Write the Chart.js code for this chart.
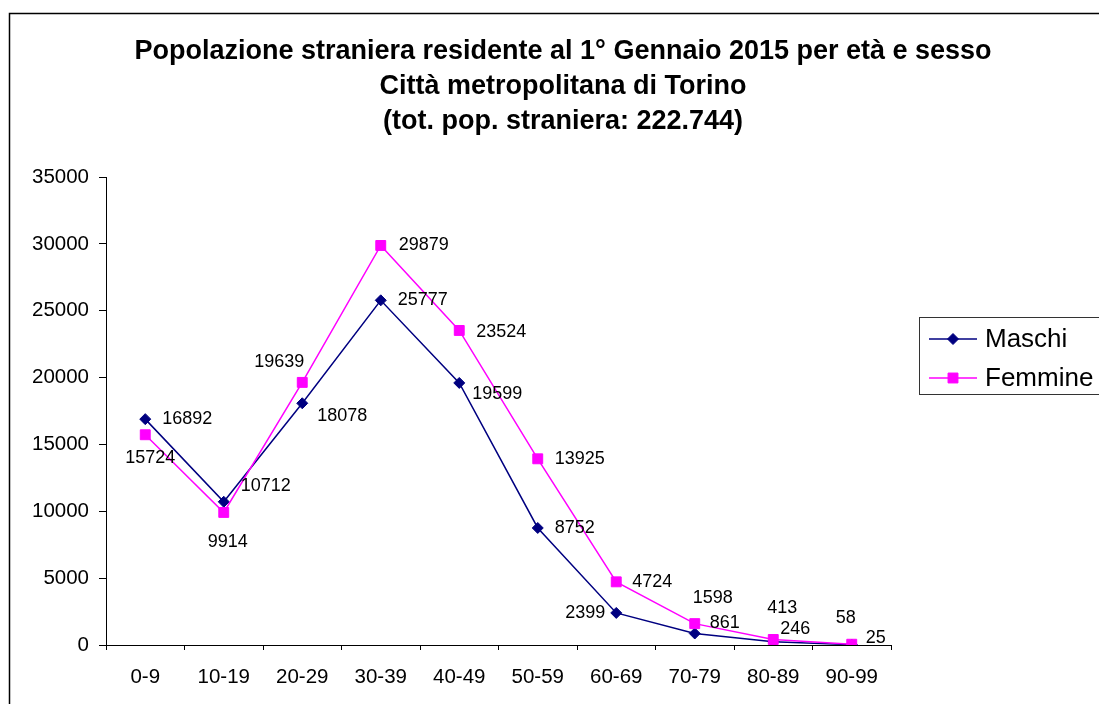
<!DOCTYPE html>
<html>
<head>
<meta charset="utf-8">
<script src="https://cdn.jsdelivr.net/npm/chart.js@4/dist/chart.umd.min.js"></script>
<style>
  html, body { margin: 0; padding: 0; background: #fff; overflow: hidden; }
  canvas { display: block; }
</style>
</head>
<body>
<canvas id="c" width="1099" height="704"></canvas>
<script>
// ---- data ----
const categories = ['0-9', '10-19', '20-29', '30-39', '40-49', '50-59', '60-69', '70-79', '80-89', '90-99'];
const maschi = [16892, 10712, 18078, 25777, 19599, 8752, 2399, 861, 246, 25];
const femmine = [15724, 9914, 19639, 29879, 23524, 13925, 4724, 1598, 413, 58];
const titleLines = [
  'Popolazione straniera residente al 1° Gennaio 2015 per età e sesso',
  'Città metropolitana di Torino',
  '(tot. pop. straniera: 222.744)'
];
const yTicks = [0, 5000, 10000, 15000, 20000, 25000, 30000, 35000];

// label placement (offset of label centre from its point, in px)
const maschiLabelOffsets = [[42,0],[42,-16],[40,13],[42,0],[38,11],[37,0],[-31,0],[30,-10],[22,-13],[24,-7]];
const femmineLabelOffsets = [[5,23],[4,30],[-23,-20],[43,0],[42,2],[42,0],[36,0],[18,-26],[9,-31],[-6,-26]];

const FONT = "'Liberation Sans', Arial, sans-serif";

const dataLabels = {
  id: 'dataLabels',
  afterDatasetsDraw(chart) {
    const ctx = chart.ctx;
    ctx.save();
    ctx.font = '18px ' + FONT;
    ctx.fillStyle = '#000';
    ctx.textAlign = 'center';
    ctx.textBaseline = 'middle';
    chart.data.datasets.forEach((ds, di) => {
      const meta = chart.getDatasetMeta(di);
      const offs = ds.labelOffsets;
      meta.data.forEach((pt, i) => {
        const o = offs[i];
        ctx.fillText(String(ds.data[i]), pt.x + o[0], pt.y + o[1]);
      });
    });
    ctx.restore();
  }
};

const frameAndLegend = {
  id: 'frameAndLegend',
  afterDraw(chart) {
    const ctx = chart.ctx;
    ctx.save();
    // outer frame
    ctx.strokeStyle = '#000';
    ctx.lineWidth = 1.5;
    ctx.strokeRect(9.5, 13.5, 1200, 800);
    // legend box
    const bx = 919.5, by = 317.5, bw = 190, bh = 77;
    ctx.lineWidth = 1;
    ctx.strokeStyle = '#333';
    ctx.strokeRect(bx, by, bw, bh);
    const rows = [339, 378];
    chart.data.datasets.forEach((ds, di) => {
      const y = rows[di];
      ctx.strokeStyle = ds.borderColor;
      ctx.lineWidth = ds.borderWidth;
      ctx.beginPath();
      ctx.moveTo(929, y);
      ctx.lineTo(977, y);
      ctx.stroke();
      ctx.fillStyle = ds.pointBackgroundColor;
      ctx.strokeStyle = ds.pointBorderColor;
      ctx.lineWidth = ds.pointBorderWidth;
      Chart.helpers.drawPoint(ctx, {pointStyle: ds.pointStyle, rotation: 0, radius: ds.pointRadius, borderWidth: ds.pointBorderWidth}, 953, y);
      ctx.fillStyle = '#000';
      ctx.font = '26px ' + FONT;
      ctx.textAlign = 'left';
      ctx.textBaseline = 'middle';
      ctx.fillText(ds.label, 985, y + 1);
    });
    ctx.restore();
  }
};

new Chart(document.getElementById('c'), {
  type: 'line',
  data: {
    labels: categories,
    datasets: [
      {
        label: 'Maschi',
        data: maschi,
        labelOffsets: maschiLabelOffsets,
        order: 1,
        borderColor: '#000080',
        backgroundColor: '#000080',
        pointBackgroundColor: '#000080',
        pointBorderColor: '#000080',
        borderWidth: 1.5,
        pointStyle: 'rectRot',
        pointRadius: 5.5,
        pointBorderWidth: 1,
        tension: 0,
        fill: false
      },
      {
        label: 'Femmine',
        data: femmine,
        labelOffsets: femmineLabelOffsets,
        order: 0,
        borderColor: '#FF00FF',
        backgroundColor: '#FF00FF',
        pointBackgroundColor: '#FF00FF',
        pointBorderColor: '#FF00FF',
        borderWidth: 1.5,
        pointStyle: 'rect',
        pointRadius: 7,
        pointBorderWidth: 1,
        tension: 0,
        fill: false
      }
    ]
  },
  options: {
    responsive: false,
    animation: false,
    devicePixelRatio: 1,
    layout: { padding: { left: 27, right: 0, top: 0, bottom: 0 } },
    plugins: {
      legend: { display: false },
      tooltip: { enabled: false },
      title: {
        display: true,
        text: titleLines,
        color: '#000',
        font: { family: FONT, size: 27, weight: 'bold', lineHeight: 35 / 27 },
        padding: { top: 34.5, bottom: 37.5 }
      }
    },
    scales: {
      x: {
        type: 'category',
        offset: true,
        grid: { display: true, drawOnChartArea: false, drawTicks: true, tickLength: 5, offset: true, color: '#000', lineWidth: 1 },
        border: { display: true, color: '#000', width: 1 },
        ticks: { color: '#000', font: { family: FONT, size: 20.5 }, padding: 15, maxRotation: 0, autoSkip: false },
        afterFit: (s) => { s.height = 59; }
      },
      y: {
        min: 0,
        max: 35000,
        afterBuildTicks: (s) => { s.ticks = yTicks.map(v => ({ value: v })); },
        grid: { display: true, drawOnChartArea: false, drawTicks: true, tickLength: 7, color: '#000', lineWidth: 1 },
        border: { display: true, color: '#000', width: 1 },
        ticks: { color: '#000', font: { family: FONT, size: 20.5 }, padding: 10, callback: (v) => String(v) },
        afterFit: (s) => { s.width = 79; }
      },
      spacer: {
        type: 'linear',
        position: 'right',
        display: true,
        grid: { display: false, drawTicks: false },
        border: { display: false },
        ticks: { display: false },
        afterFit: (s) => { s.width = 208; }
      }
    }
  },
  plugins: [dataLabels, frameAndLegend]
});
</script>
</body>
</html>
